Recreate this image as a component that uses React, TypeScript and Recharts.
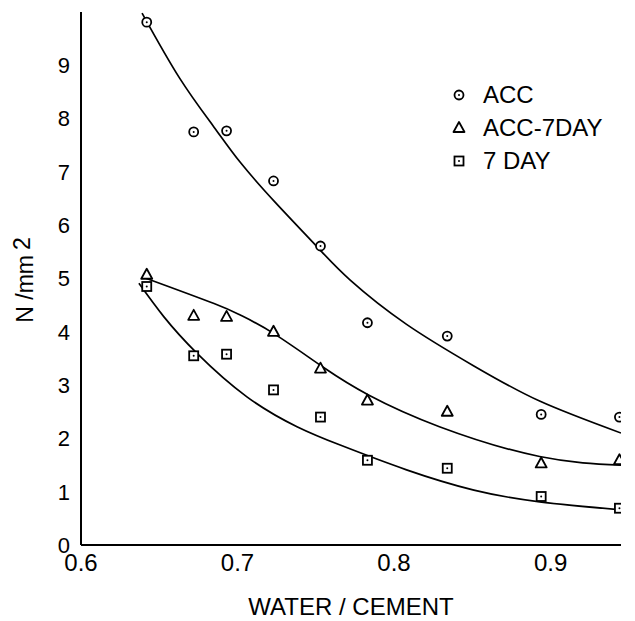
import { ComposedChart, Legend, Line, Scatter, XAxis, YAxis } from 'recharts';

// measured points (water/cement ratio vs strength, N/mm2)
const waterCement = [0.642, 0.672, 0.693, 0.723, 0.753, 0.783, 0.834, 0.894, 0.944];
const accValues = [9.81, 7.75, 7.77, 6.83, 5.61, 4.17, 3.92, 2.45, 2.40];
const acc7Values = [5.07, 4.30, 4.28, 4.00, 3.31, 2.71, 2.50, 1.53, 1.59];
const day7Values = [4.85, 3.55, 3.58, 2.91, 2.40, 1.59, 1.44, 0.91, 0.69];

// fitted curves
const accFitX = [0.639, 0.663, 0.685, 0.702, 0.725, 0.751, 0.772, 0.808, 0.851, 0.893, 0.945];
const accFitY = [9.98, 8.76, 7.84, 7.17, 6.40, 5.59, 4.97, 4.14, 3.36, 2.70, 2.10];
const acc7FitX = [0.641, 0.685, 0.702, 0.723, 0.755, 0.784, 0.829, 0.893, 0.945];
const acc7FitY = [5.01, 4.53, 4.31, 3.97, 3.33, 2.81, 2.22, 1.66, 1.50];
const day7FitX = [0.637, 0.653, 0.674, 0.706, 0.738, 0.766, 0.808, 0.851, 0.893, 0.945];
const day7FitY = [4.91, 4.28, 3.60, 2.78, 2.22, 1.87, 1.41, 1.03, 0.81, 0.66];

const seriesNames = ['ACC', 'ACC-7DAY', '7 DAY'];
const xTicks = [0.6, 0.7, 0.8, 0.9];
const yTicks = [0, 1, 2, 3, 4, 5, 6, 7, 8, 9];

const FONT = '"Liberation Sans", Arial, sans-serif';

const toPoints = (xs: number[], ys: number[]) => xs.map((x, i) => ({ x, y: ys[i] }));

type Kind = 'circle' | 'triangle' | 'square';

const Marker = ({ kind, cx, cy }: { kind: Kind; cx: number; cy: number }) => {
    if (kind === 'circle') {
        return <g>
            <circle cx={cx} cy={cy} r={4.5} fill="#fff" stroke="#000" strokeWidth={1.8} />
            <circle cx={cx} cy={cy} r={1} fill="#000" />
        </g>;
    }
    if (kind === 'triangle') {
        const h = 10;
        return <path
            d={`M${cx},${cy - h * 0.6} L${cx + 5.5},${cy + h * 0.4} L${cx - 5.5},${cy + h * 0.4} Z`}
            fill="#fff" stroke="#000" strokeWidth={1.8} strokeLinejoin="round" />;
    }
    return <g>
        <rect x={cx - 4.5} y={cy - 4.5} width={9} height={9} fill="#fff" stroke="#000" strokeWidth={1.8} />
        <circle cx={cx} cy={cy} r={1} fill="#000" />
    </g>;
};

const kinds: Kind[] = ['circle', 'triangle', 'square'];

const LegendBox = () => (
    <div style={{ fontFamily: FONT, fontSize: 24, color: '#000' }}>
        {seriesNames.map((name, i) => (
            <div key={name} style={{ display: 'flex', alignItems: 'center', height: 33 }}>
                <svg width={20} height={20} style={{ marginRight: 14 }}>
                    <Marker kind={kinds[i]} cx={10} cy={10} />
                </svg>
                <span>{name}</span>
            </div>
        ))}
    </div>
);

const XTitle = (props: any) => {
    const { x, y, width, height } = props.viewBox;
    return <text x={x + width / 2} y={y + height - 3} textAnchor="middle"
        fontFamily={FONT} fontSize={24} fill="#000">WATER / CEMENT</text>;
};

const YTitle = () => {
    const cx = 25, cy = 272;
    return <text x={cx} y={cy} textAnchor="middle" transform={`rotate(-90, ${cx}, ${cy})`}
        fontFamily={FONT} fontSize={23} fill="#000">
        N /mm<tspan dx={5} dy={-3}>2</tspan>
    </text>;
};

export default function App() {
    return <ComposedChart width={625} height={613} margin={{ top: 4, right: 12, left: 0, bottom: 3 }}>
        <XAxis dataKey="x" type="number" domain={[0.6, 0.945]} allowDataOverflow ticks={xTicks}
            tickSize={0} tickMargin={9} height={73} stroke="#000" strokeWidth={2}
            tick={{ fontSize: 24, fill: '#000', fontFamily: FONT }} label={<XTitle />} />
        <YAxis dataKey="y" type="number" domain={[0, 10]} ticks={yTicks} width={73}
            tickSize={0} tickMargin={11} stroke="#000" strokeWidth={2}
            tick={{ fontSize: 22, fill: '#000', fontFamily: FONT }} label={<YTitle />} />
        <Legend layout="horizontal" verticalAlign="middle" align="center"
            wrapperStyle={{ top: 70, left: 441, width: 'auto', height: 'auto' }}
            content={() => <LegendBox />} />
        <Line data={toPoints(accFitX, accFitY)} dataKey="y" type="natural" stroke="#000"
            strokeWidth={1.7} dot={false} isAnimationActive={false} legendType="none" />
        <Line data={toPoints(acc7FitX, acc7FitY)} dataKey="y" type="natural" stroke="#000"
            strokeWidth={1.7} dot={false} isAnimationActive={false} legendType="none" />
        <Line data={toPoints(day7FitX, day7FitY)} dataKey="y" type="natural" stroke="#000"
            strokeWidth={1.7} dot={false} isAnimationActive={false} legendType="none" />
        <Scatter name={seriesNames[0]} data={toPoints(waterCement, accValues)} dataKey="y"
            isAnimationActive={false} shape={(p: any) => <Marker kind="circle" cx={p.cx} cy={p.cy} />} />
        <Scatter name={seriesNames[1]} data={toPoints(waterCement, acc7Values)} dataKey="y"
            isAnimationActive={false} shape={(p: any) => <Marker kind="triangle" cx={p.cx} cy={p.cy} />} />
        <Scatter name={seriesNames[2]} data={toPoints(waterCement, day7Values)} dataKey="y"
            isAnimationActive={false} shape={(p: any) => <Marker kind="square" cx={p.cx} cy={p.cy} />} />
    </ComposedChart>;
}
